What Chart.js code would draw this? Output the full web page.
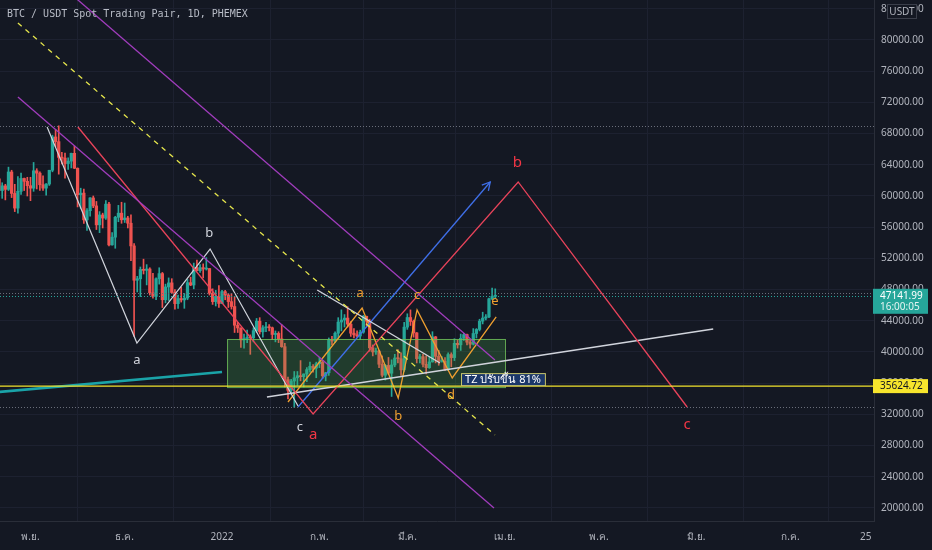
<!DOCTYPE html>
<html>
<head>
<meta charset="utf-8">
<script src="https://cdn.jsdelivr.net/npm/chart.js@4.4.1/dist/chart.umd.min.js"></script>
<style>
html,body{margin:0;padding:0;background:#141823;}
#wrap{width:932px;height:550px;}
</style>
</head>
<body>
<div id="wrap"><canvas id="chart" width="932" height="550"></canvas></div>
<script>
// day 0 = 1 Jan 2022, one daily candle from 21 Oct 2021 to 29 Mar 2022
var firstDay = -72;

var opens = [
  66000,62200,60700,61300,60850,63080,60330,58450,60600,62250,61880,
  61320,61000,63230,62930,61440,61010,61530,63300,67570,66970,64950,64860,64160,64470,65470,63560,60160,60370,56940,58120,59750,58730,56300,57570,57170,58960,53730,54720,57270,57800,
  56950,57180,56510,53600,49200,49390,50580,50470,50640,47590,47130,49390,50050,46700,48340,48860,47630,46200,46850,46680,46910,48890,48590,50820,50430,50810,50640,50700,47540,46460,47120,
  46220,47740,47310,46460,45830,43430,43080,41550,41730,41860,41820,42740,43950,42590,43100,43180,43110,42250,42380,41680,40680,36460,35080,36280,36690,36960,36840,37180,37740,38170,37920,
  38500,38720,36950,37340,41570,41410,42410,43840,44100,44350,43570,42410,42200,42050,42540,44580,43960,40540,40010,40120,38430,37020,38280,37280,38340,39230,39140,37710,
  43190,44420,43920,42450,39150,39400,38420,37990,38730,41940,39440,38790,38810,37790,39670,39280,41110,40920,41760,42230,41260,41000,42370,42890,43960,44350,44500,46820,47130
];
var highs = [
  66600,63700,61700,61500,63700,63300,61500,62500,62950,62300,62400,
  62400,64300,63500,63100,62600,61600,63300,67800,68500,69000,65600,65500,64900,65500,66400,63600,61000,60900,58400,59800,60000,59300,58000,57800,59400,59200,55300,57400,58800,59200,
  59100,57400,57600,53900,49700,50900,51900,51200,50800,50100,49500,50800,50200,48700,49500,49400,48000,47300,48300,47500,49300,49600,51400,51800,51200,51300,52100,50700,48100,47900,48500,
  47900,47900,47500,47500,47100,43800,43100,42300,42800,42200,43100,44300,44400,43400,43800,43500,43200,42700,42600,43500,41100,36800,36500,37500,37500,38900,37200,38000,38700,38400,38700,
  39300,38900,37400,41800,42000,42600,44400,45400,44800,45800,43900,43000,42700,42800,44700,44600,44200,40900,40500,40200,39500,38400,39300,39000,39700,40300,39900,43800,
  44900,45400,44100,42500,39700,39700,39500,39400,42600,42000,40200,39400,39300,39900,39900,41700,41500,42300,42400,42300,41500,43000,43000,44200,45100,44800,46900,48200,48100
];
var lows = [
  62000,60000,59700,59500,60700,59800,58000,57800,60200,60700,60000,
  59400,60600,60900,60700,60700,60100,61350,63100,66300,62800,64100,62300,63400,63600,63500,58600,58400,56500,55600,57400,58500,55700,55300,55900,57000,53600,53700,53300,56700,56500,
  56600,55900,51700,42000,47700,47100,50000,48600,47300,46900,46700,48700,45700,46300,46600,47500,45500,45600,46400,45600,46700,48500,48100,50400,50200,49500,50500,47300,46100,45900,45700,
  46200,46700,45700,45500,42500,42500,40600,40500,41200,39700,41300,42500,42300,41900,42600,42700,41600,41300,41200,40600,35500,34000,34600,32900,35700,36300,35500,36200,37400,37400,36700,
  38000,36600,36300,37000,40900,41200,41700,42700,43200,43200,42000,41800,41900,41600,42400,43300,40100,39500,39700,38000,36800,36400,37100,34300,38100,38600,37000,37500,
  42900,43400,41900,38600,38600,38100,37200,37900,38700,38600,38300,38700,37600,37600,38100,38900,40500,40200,41500,40900,40500,40900,41800,42700,43600,44100,44400,46700,46900
];
var closes = [
  62200,60700,61300,60850,63080,60330,58450,60600,62250,61880,61320,
  61000,63230,62930,61440,61010,61530,63300,67570,66970,64950,64860,64160,64470,65470,63560,60160,60370,56940,58120,59750,58730,56300,57570,57170,58960,53730,54720,57270,57800,56950,
  57180,56510,53600,49200,49390,50580,50470,50640,47590,47130,49390,50050,46700,48340,48860,47630,46200,46850,46680,46910,48890,48590,50820,50430,50810,50640,50700,47540,46460,47120,46220,
  47740,47310,46460,45830,43430,43080,41550,41730,41860,41820,42740,43950,42590,43100,43180,43110,42250,42380,41680,40680,36460,35080,36280,36690,36960,36840,37180,37740,38170,37920,38500,
  38720,36950,37340,41570,41410,42410,43840,44100,44350,43570,42410,42200,42050,42540,44580,43960,40540,40010,40120,38430,37020,38280,37280,38340,39230,39140,37710,43190,
  44420,43920,42450,39150,39400,38420,37990,38730,41940,39440,38790,38810,37790,39670,39280,41110,40920,41760,42230,41260,41000,42370,42890,43960,44350,44500,46820,47130,47141.99
];

var xTickDays = [-61, -31, 0, 31, 59, 90, 120, 151, 181, 205];
var xTickLabels = ['พ.ย.', 'ธ.ค.', '2022', 'ก.พ.', 'มี.ค.', 'เม.ย.', 'พ.ค.', 'มิ.ย.', 'ก.ค.', '25'];
var yTickValues = [20000, 24000, 28000, 32000, 36000, 40000, 44000, 48000, 52000, 56000, 60000, 64000, 68000, 72000, 76000, 80000, 84000];

var lastPrice = 47141.99;
var countdown = '16:00:05';
var supportPrice = 35624.72;
var dottedLevels = [69000, 47600, 32950];

// drawings, as [day, price]
var yellowDash = [[-65.0, 82180], [86.9, 29360]];
var purpleUpper = [[-50.0, 86560], [86.9, 38970]];
var purpleLower = [[-65.0, 72690], [86.6, 20000]];
var redWave = [[-45.9, 68850], [29.0, 32050], [94.3, 61800], [148.1, 32950]];
var whiteWave = [[-55.7, 68850], [-27.1, 41150], [-3.8, 53200], [24.2, 33080]];
var whiteShort = [[30.3, 47950], [69.4, 38590]];
var whiteLong = [[14.3, 34230], [156.4, 42950]];
var tealLine = [[-72.0, 34840], [0, 37440]];
var blueArrow = [[24.2, 32950], [85.4, 61800]];
var orangeWave = [[21.0, 33590], [44.6, 45640], [56.1, 34100], [62.1, 45390], [73.3, 36670], [87.3, 44490]];
var zoneBox = [1.6, 90.1, 35500, 41670];

var labelText  = ['a', 'b', 'c', 'a', 'b', 'c', 'a', 'b', 'c', 'd', 'e'];
var labelDay   = [-27.1, -4.1, 24.8, 29.0, 94.0, 148.1, 44.0, 56.1, 62.1, 72.9, 86.9];
var labelPrice = [38970, 55260, 30390, 29360, 64230, 30640, 47560, 31800, 47310, 34490, 46540];
var labelGroup = ['w', 'w', 'w', 'r', 'r', 'r', 'o', 'o', 'o', 'o', 'o'];

var BG = '#141823';
var GRID = '#1d2130';
var UP = '#26a69a';
var DOWN = '#ef5350';
var RED = '#e8435a';
var ORANGE = '#f0a030';
var WHITE = '#d1d4dc';
var PURPLE = '#a03cbc';
var AXIS_TEXT = '#b2b5be';

var wickData = [], bodyData = [], candleColors = [];
for (var i = 0; i < closes.length; i++) {
  var day = firstDay + i;
  wickData.push({x: day, y: [lows[i], highs[i]]});
  bodyData.push({x: day, y: [opens[i], closes[i]]});
  candleColors.push(closes[i] >= opens[i] ? UP : DOWN);
}

function lineSet(points, color, width, dash) {
  return {
    type: 'line',
    data: points.map(function(p){ return {x: p[0], y: p[1]}; }),
    borderColor: color,
    borderWidth: width || 1,
    borderDash: dash || [],
    pointRadius: 0,
    fill: false,
    tension: 0,
    order: 0
  };
}

function px(chart, d, p) {
  return [chart.scales.x.getPixelForValue(d), chart.scales.y.getPixelForValue(p)];
}

function noPad(s) {
  s.paddingTop = 0; s.paddingBottom = 0; s.paddingLeft = 0; s.paddingRight = 0;
}

var overlay = {
  id: 'overlay',
  beforeDraw: function(chart){
    var ctx = chart.ctx;
    ctx.save();
    ctx.fillStyle = BG;
    ctx.fillRect(0, 0, chart.width, chart.height);
    ctx.restore();
  },
  afterDatasetDraw: function(chart, args){
    // zone box over the candles, under the drawings
    if (args.index !== 1) return;
    var ctx = chart.ctx;
    var a = px(chart, zoneBox[0], zoneBox[3]);
    var b = px(chart, zoneBox[1], zoneBox[2]);
    ctx.save();
    ctx.fillStyle = 'rgba(76,175,80,0.24)';
    ctx.fillRect(a[0], a[1], b[0] - a[0], b[1] - a[1]);
    ctx.strokeStyle = 'rgba(110,190,90,0.85)';
    ctx.lineWidth = 1;
    ctx.strokeRect(a[0] + 0.5, a[1] + 0.5, b[0] - a[0], b[1] - a[1]);
    ctx.restore();
  },
  afterDatasetsDraw: function(chart){
    var ctx = chart.ctx, area = chart.chartArea, ys = chart.scales.y;
    ctx.save();
    ctx.beginPath();
    ctx.rect(area.left, area.top, area.right - area.left, area.bottom - area.top);
    ctx.clip();

    // dotted levels
    ctx.lineWidth = 1;
    ctx.setLineDash([1, 2]);
    ctx.strokeStyle = '#6a6e7a';
    dottedLevels.forEach(function(v){
      var y = Math.round(ys.getPixelForValue(v)) + 0.5;
      ctx.beginPath(); ctx.moveTo(area.left, y); ctx.lineTo(area.right, y); ctx.stroke();
    });
    ctx.strokeStyle = UP;
    var yl = Math.round(ys.getPixelForValue(lastPrice)) + 0.5;
    ctx.beginPath(); ctx.moveTo(area.left, yl); ctx.lineTo(area.right, yl); ctx.stroke();
    ctx.setLineDash([]);

    // support line
    ctx.strokeStyle = '#f2e22c';
    ctx.lineWidth = 1.3;
    var ysup = ys.getPixelForValue(supportPrice);
    ctx.beginPath(); ctx.moveTo(area.left, ysup); ctx.lineTo(area.right, ysup); ctx.stroke();

    // arrow head
    var p0 = px(chart, blueArrow[0][0], blueArrow[0][1]);
    var p1 = px(chart, blueArrow[1][0], blueArrow[1][1]);
    var ang = Math.atan2(p1[1] - p0[1], p1[0] - p0[0]);
    ctx.strokeStyle = '#3f6fe8';
    ctx.lineWidth = 1.3;
    ctx.beginPath();
    ctx.moveTo(p1[0] - 9 * Math.cos(ang - 0.5), p1[1] - 9 * Math.sin(ang - 0.5));
    ctx.lineTo(p1[0], p1[1]);
    ctx.lineTo(p1[0] - 9 * Math.cos(ang + 0.5), p1[1] - 9 * Math.sin(ang + 0.5));
    ctx.stroke();

    // wave labels
    ctx.textAlign = 'center';
    ctx.textBaseline = 'middle';
    for (var i = 0; i < labelText.length; i++) {
      var g = labelGroup[i];
      ctx.fillStyle = g === 'w' ? WHITE : (g === 'r' ? '#f23645' : ORANGE);
      ctx.font = (g === 'r' ? '15px' : '13px') + ' "Noto Sans", "DejaVu Sans", sans-serif';
      var q = px(chart, labelDay[i], labelPrice[i]);
      ctx.fillText(labelText[i], q[0], q[1]);
    }

    // TZ note
    var t = px(chart, 76.1, supportPrice);
    ctx.font = '11px "Noto Sans", "DejaVu Sans", sans-serif';
    var txt = 'TZ ปรับขึ้น 81%';
    var w = ctx.measureText(txt).width + 8;
    ctx.fillStyle = '#1b3769';
    ctx.fillRect(t[0], t[1] - 13, w, 13);
    ctx.strokeStyle = '#c9c76a';
    ctx.lineWidth = 1;
    ctx.strokeRect(t[0] + 0.5, t[1] - 12.5, w, 12);
    ctx.fillStyle = '#ffffff';
    ctx.textAlign = 'left';
    ctx.fillText(txt, t[0] + 4, t[1] - 6);
    ctx.restore();
  },
  afterDraw: function(chart){
    var ctx = chart.ctx, ys = chart.scales.y;
    ctx.save();
    // title
    ctx.font = '10px "DejaVu Sans Mono", monospace';
    ctx.fillStyle = '#b8bcc6';
    ctx.textAlign = 'left';
    ctx.textBaseline = 'middle';
    ctx.fillText('BTC / USDT Spot Trading Pair, 1D, PHEMEX', 7, 14);

    // currency box
    ctx.fillStyle = BG;
    ctx.fillRect(887, 4, 30, 15);
    ctx.strokeStyle = '#3a3e4a';
    ctx.strokeRect(887.5, 4.5, 29, 14);
    ctx.fillStyle = AXIS_TEXT;
    ctx.font = '10px "Noto Sans", sans-serif';
    ctx.textAlign = 'center';
    ctx.fillText('USDT', 902, 12);

    // last price box
    var yl = ys.getPixelForValue(lastPrice);
    ctx.fillStyle = '#26a69a';
    ctx.fillRect(873, yl - 7.5, 55, 25);
    ctx.fillStyle = '#ffffff';
    ctx.textAlign = 'left';
    ctx.fillText(lastPrice.toFixed(2), 880, yl);
    ctx.fillStyle = '#e4f4f2';
    ctx.fillText(countdown, 880, yl + 11);

    // support price box
    var ysup = ys.getPixelForValue(supportPrice);
    ctx.fillStyle = '#f7e52d';
    ctx.fillRect(873, ysup - 7, 55, 14);
    ctx.fillStyle = '#131722';
    ctx.fillText(supportPrice.toFixed(2), 880, ysup + 0.5);
    ctx.restore();
  }
};

var ctx = document.getElementById('chart');
new Chart(ctx, {
  type: 'bar',
  data: {
    datasets: [
      {data: wickData, backgroundColor: candleColors, barThickness: 1, grouped: false, order: 3, minBarLength: 1},
      {data: bodyData, backgroundColor: candleColors, barThickness: 2.6, grouped: false, order: 2, minBarLength: 1},
      lineSet(tealLine, '#1aa3a8', 2.5),
      lineSet(yellowDash, '#e6e64c', 1.3, [5, 5]),
      lineSet(purpleUpper, PURPLE, 1.3),
      lineSet(purpleLower, PURPLE, 1.3),
      lineSet(redWave, RED, 1.3),
      lineSet(whiteWave, WHITE, 1.2),
      lineSet(whiteShort, WHITE, 1.4),
      lineSet(whiteLong, WHITE, 1.4),
      lineSet(blueArrow, '#3f6fe8', 1.3),
      lineSet(orangeWave, ORANGE, 1.3)
    ]
  },
  options: {
    responsive: false,
    animation: false,
    layout: {padding: 0},
    plugins: {legend: {display: false}, tooltip: {enabled: false}},
    scales: {
      x: {
        type: 'linear',
        min: -70.7,
        max: 207.6,
        offset: false,
        grid: {color: GRID, drawTicks: false},
        border: {color: '#2a2e39'},
        ticks: {
          color: AXIS_TEXT,
          font: {size: 10, family: '"Noto Sans", "DejaVu Sans", sans-serif'},
          padding: 10,
          autoSkip: false,
          maxRotation: 0,
          callback: function(v, i){ return xTickLabels[i]; }
        },
        afterBuildTicks: function(s){ s.ticks = xTickDays.map(function(v){ return {value: v}; }); },
        afterFit: function(s){ s.height = 29; noPad(s); }
      },
      y: {
        position: 'right',
        min: 18333,
        max: 85128,
        grid: {color: GRID, drawTicks: false},
        border: {color: '#2a2e39'},
        ticks: {
          color: AXIS_TEXT,
          font: {size: 10, family: '"Noto Sans", "DejaVu Sans", sans-serif'},
          padding: 7,
          callback: function(v){ return v.toFixed(2); }
        },
        afterBuildTicks: function(s){ s.ticks = yTickValues.map(function(v){ return {value: v}; }); },
        afterFit: function(s){ s.width = 58; noPad(s); }
      }
    }
  },
  plugins: [overlay]
});
</script>
</body>
</html>
